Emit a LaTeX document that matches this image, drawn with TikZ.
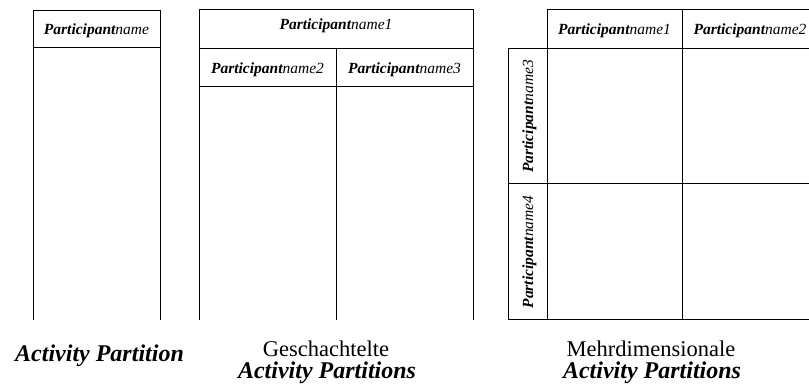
\documentclass[tikz,border=0pt]{standalone}
\usepackage{fontspec}
\setmainfont{Liberation Serif}
\begin{document}
\begin{tikzpicture}[x=1pt,y=-1pt,
  frame/.style={draw=black, line width=1pt},
  head/.style={font=\fontsize{15.5}{17}\selectfont\itshape, inner sep=0pt, anchor=base},
  upcap/.style={font=\fontsize{22.5}{26}\selectfont, inner sep=0pt, anchor=base},
  itcap/.style={font=\fontsize{24}{28}\selectfont\bfseries\itshape, inner sep=0pt, anchor=base}]
\newcommand{\pname}[1]{\textbf{Participant}name#1}
\useasboundingbox (0,0) rectangle (809,387);
\begin{scope}
\clip (0,0) rectangle (809,387);

% single partition
\draw[frame] (33,320) -- (33,11) -- (160,11) -- (160,320);
\draw[frame] (33,48) -- (160,48);
\node[head] (p0) at (96.5,34.5) {\pname{}};

% nested partitions
\draw[frame] (199,320) -- (199,10) -- (473,10) -- (473,320);
\draw[frame] (199,49) -- (473,49);
\draw[frame] (199,87) -- (473,87);
\draw[frame] (336,49) -- (336,320);
\node[head] (n1) at (336,29.5) {\pname{1}};
\node[head] (n2) at (267.5,73.5) {\pname{2}};
\node[head] (n3) at (404.5,73.5) {\pname{3}};

% multidimensional partitions
\draw[frame] (547,49) -- (547,10) -- (818,10) -- (818,320);
\draw[frame] (508,49) -- (818,49);
\draw[frame] (508,49) -- (508,320) -- (818,320);
\draw[frame] (547,49) -- (547,320);
\draw[frame] (682,10) -- (682,320);
\draw[frame] (508,184) -- (818,184);
\node[head] (m1) at (614.5,35) {\pname{1}};
\node[head] (m2) at (750,35) {\pname{2}};
\node[head, rotate=90] (m3) at (533,116.5) {\pname{3}};
\node[head, rotate=90] (m4) at (533,252) {\pname{4}};
\end{scope}

% captions
\node[itcap] (c1) at (99.5,362) {Activity Partition};
\node[upcap] (c2a) at (326,357) {Geschachtelte};
\node[itcap] (c2b) at (327,379) {Activity Partitions};
\node[upcap] (c3a) at (651,357) {Mehrdimensionale};
\node[itcap] (c3b) at (652,379) {Activity Partitions};
\end{tikzpicture}
\end{document}
